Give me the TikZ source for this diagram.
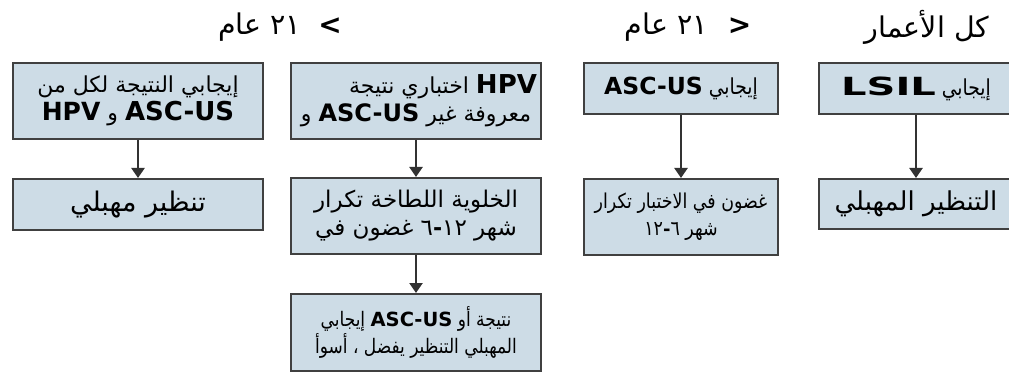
\documentclass[tikz,border=0pt]{standalone}
\usepackage{fontspec}
\setmainfont{DejaVu Sans}
\newfontfamily\arabicfont[Script=Arabic]{DejaVu Sans}
\newfontfamily\arabicnarrow[Script=Arabic, FakeStretch=0.85]{DejaVu Sans}
\newfontfamily\latinfont{DejaVu Sans}
\newfontfamily\latinwide{DejaVu Sans}[FakeStretch=1.6]
\TeXXeTstate=1
\usetikzlibrary{arrows.meta}
\definecolor{boxfill}{RGB}{205,220,230}
\definecolor{boxline}{RGB}{64,64,64}
\definecolor{arrline}{RGB}{50,50,50}
\tikzset{
  box/.style       = {draw=boxline, fill=boxfill, line width=2.4pt, align=center, inner sep=2pt},
  widebox/.style   = {box, minimum width=249.6pt},   % left two columns
  narrowbox/.style = {box, minimum width=193.6pt},   % right two columns
  ar/.style        = {font=\arabicfont\fontsize{#1}{28}\selectfont},
  arn/.style       = {font=\arabicnarrow\fontsize{#1}{27}\selectfont},
  head/.style      = {ar=28.5, inner sep=0pt},
  arrow/.style     = {-{Triangle[width=13pt,length=10pt]}, line width=2.4pt, draw=arrline},
}
\newcommand{\lat}[2]{{\latinfont\bfseries\fontsize{#1}{#1}\selectfont #2}}

\begin{document}
\begin{tikzpicture}[x=1pt, y=-1pt]
  \useasboundingbox (0,0) rectangle (1009,374);

  % age groups
  \node[head] at (280,27) (h1) {عام ٢١\hspace{0.6em}\lat{28}{<}};
  \node[head] at (688,27) (h2) {عام ٢١\hspace{0.7em}\lat{28}{>}};
  \node[head] at (927,27) (h3) {\beginR كل الأعمار\endR};

  \node[widebox, minimum height=75.6pt, ar=22]   at (138,101)   (a1) {\beginR إيجابي النتيجة لكل من\endR \\ \lat{25}{HPV} و \lat{26}{ASC-US}};
  \node[widebox, minimum height=50.6pt, ar=27]   at (138,204.5) (a2) {\beginR تنظير مهبلي\endR};

  \node[widebox, minimum height=75.6pt, ar=22]   at (416,101)   (b1) {\hspace*{54pt}نتيجة اختباري \lat{26}{HPV} \\ و \lat{24}{ASC-US} غير معروفة};
  \node[widebox, minimum height=75.6pt, ar=23]   at (416,216)   (b2) {تكرار اللطاخة الخلوية \\ في غضون ٦\lat{22}{-}١٢ شهر};
  \node[widebox, minimum height=76.6pt, arn=20] at (416,332.5) (b3) {إيجابي \lat{19.5}{ASC-US} أو نتيجة \\ أسوأ ، يفضل التنظير المهبلي};

  \node[narrowbox, minimum height=50.6pt, arn=22] at (681,88.5) (c1) {\lat{23.5}{ASC-US} إيجابي};
  \node[narrowbox, minimum height=75.6pt, arn={20.5}] at (681,217) (c2) {تكرار الاختبار في غضون \\ ١٢\lat{18}{-}٦ شهر};

  \node[narrowbox, minimum height=50.6pt, arn=22] at (916,88.5) (d1) {{\latinwide\bfseries\fontsize{25}{25}\selectfont LSIL} إيجابي};
  \node[narrowbox, minimum height=49.6pt, ar=26] at (916,204)  (d2) {\beginR التنظير المهبلي\endR};

  \draw[arrow] (a1) -- (a2);
  \draw[arrow] (b1) -- (b2);
  \draw[arrow] (b2) -- (b3);
  \draw[arrow] (c1) -- (c2);
  \draw[arrow] (d1) -- (d2);
\end{tikzpicture}
\end{document}
